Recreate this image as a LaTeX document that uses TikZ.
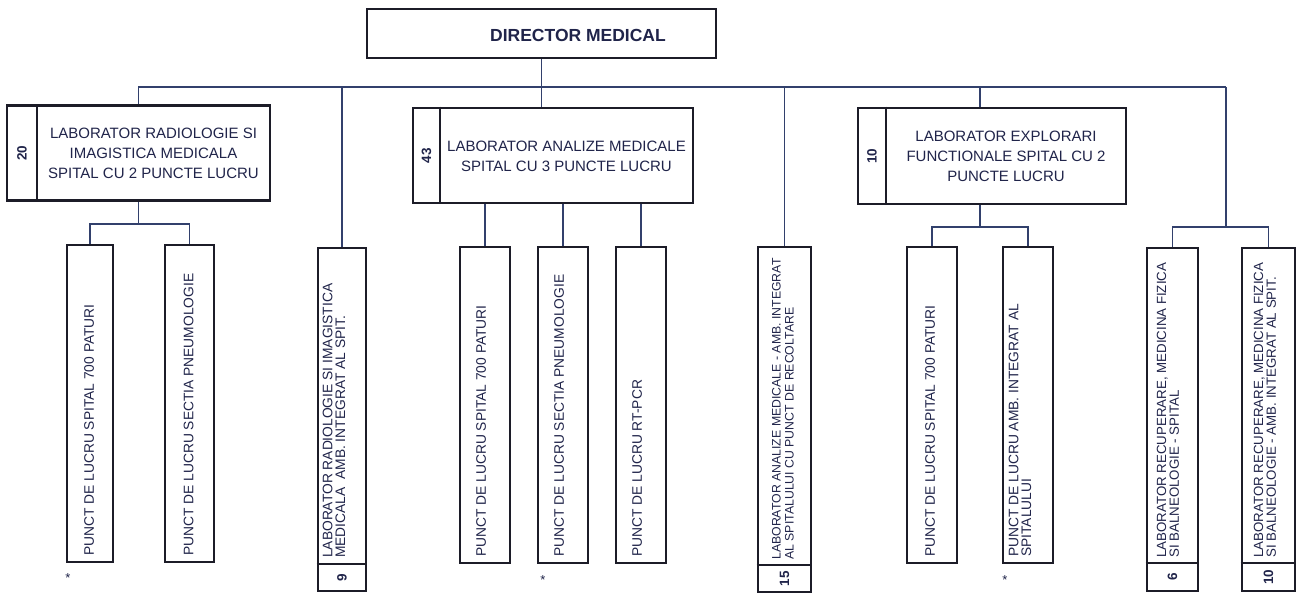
\documentclass[tikz,border=0pt]{standalone}
\usepackage{fontspec}
\setmainfont{Liberation Sans}
\definecolor{ink}{RGB}{32,36,74}
\definecolor{edge}{RGB}{28,28,40}
\definecolor{wire}{RGB}{50,64,108}
\tikzset{
  topbox/.style={draw=edge, line width=2.6pt, fill=white, rectangle, inner sep=0pt},
  lowbox/.style={draw=edge, line width=2.6pt, fill=white, rectangle, inner sep=0pt},
  divline/.style={draw=edge, line width=2pt},
  conn/.style={draw=wire, line width=1.5pt},
  toptxt/.style={text=ink, align=center, inner sep=0pt, font=\fontsize{15}{20}\selectfont},
  vtxt/.style={text=ink, align=left, inner sep=0pt, rotate=90, anchor=west, font=\fontsize{13.8}{12.8}\selectfont},
  numtxt/.style={text=ink, inner sep=0pt, rotate=90, font=\bfseries\fontsize{13.5}{14}\selectfont},
  asttxt/.style={text=ink, inner sep=0pt, font=\fontsize{13}{13}\selectfont}
}
\begin{document}
\begin{tikzpicture}[x=1pt,y=-1pt]
\useasboundingbox (0,0) rectangle (1303,596);
\fill[white] (0,0) rectangle (1303,596);
\coordinate (bus) at (0,87);
\coordinate (busR) at (1226,87);
% top boxes
\node[topbox, line width=2.3pt, minimum width=349, minimum height=49] (dir) at (541.5,33.5) {};
\node[text=ink, inner sep=0pt, font=\bfseries\fontsize{17.5}{20}\selectfont] (dirt) at (578,35) {DIRECTOR MEDICAL};
\node[topbox, minimum width=263, minimum height=95] (b1) at (138.5,153) {};
\node[topbox, minimum width=280, minimum height=95] (b2) at (553,155.5) {};
\node[topbox, minimum width=268, minimum height=96] (b3) at (992,156) {};
% bottom boxes
\node[lowbox, minimum width=46, minimum height=317] (p1a) at (90,403.5) {};
\node[lowbox, minimum width=49, minimum height=317] (p1b) at (189.5,403.5) {};
\node[lowbox, minimum width=48, minimum height=343] (p9) at (342,419.5) {};
\node[lowbox, minimum width=50, minimum height=316] (p2a) at (485,405) {};
\node[lowbox, minimum width=50, minimum height=316] (p2b) at (563,405) {};
\node[lowbox, minimum width=50, minimum height=316] (p2c) at (641,405) {};
\node[lowbox, minimum width=53, minimum height=345] (p15) at (784.5,419.5) {};
\node[lowbox, minimum width=50, minimum height=316] (p3a) at (932,405) {};
\node[lowbox, minimum width=50, minimum height=316] (p3b) at (1028,405) {};
\node[lowbox, minimum width=51, minimum height=343] (p6) at (1172.5,419.5) {};
\node[lowbox, minimum width=53, minimum height=343] (p10) at (1268.5,419.5) {};
% connectors
\draw[conn] (b1.north) -- (b1.north |- bus) -- (busR);
\draw[conn] (dir.south) -- (dir.south |- b2.north);
\draw[conn] (p9.north |- bus) -- (p9.north);
\draw[conn] (p15.north |- bus) -- (p15.north);
\draw[conn] (980,87) -- (b3.north -| 980,0);
\draw[conn] (b1.south) -- (b1.south |- 0,224);
\draw[conn] (p1a.north) -- (p1a.north |- 0,224) -- (p1b.north |- 0,224) -- (p1b.north);
\draw[conn] (b2.south -| p2a.north) -- (p2a.north);
\draw[conn] (b2.south -| p2b.north) -- (p2b.north);
\draw[conn] (b2.south -| p2c.north) -- (p2c.north);
\draw[conn] (b3.south -| 980,0) -- (980,227);
\draw[conn] (p3a.north) -- (p3a.north |- 0,227) -- (p3b.north |- 0,227) -- (p3b.north);
\draw[conn] (busR) -- (busR |- 0,227);
\draw[conn] (p6.north) -- (p6.north |- 0,227) -- (p10.north |- 0,227) -- (p10.north);
% dividers
\draw[divline] (b1.north -| 37,0) -- (b1.south -| 37,0);
\draw[divline] (b2.north -| 440,0) -- (b2.south -| 440,0);
\draw[divline] (b3.north -| 886,0) -- (b3.south -| 886,0);
\draw[divline] (p9.west |- 0,564) -- (p9.east |- 0,564);
\draw[divline] (p15.west |- 0,565) -- (p15.east |- 0,565);
\draw[divline] (p6.west |- 0,563) -- (p6.east |- 0,563);
\draw[divline] (p10.west |- 0,563) -- (p10.east |- 0,563);
% top texts
\node[numtxt] (n20) at (22,153) {20};
\node[toptxt] (t1) at (153.5,153) {LABORATOR RADIOLOGIE SI\\IMAGISTICA MEDICALA\\SPITAL CU 2 PUNCTE LUCRU};
\node[numtxt] (n43) at (426.5,155.5) {43};
\node[toptxt] (t2) at (566.5,156) {LABORATOR ANALIZE MEDICALE\\SPITAL CU 3 PUNCTE LUCRU};
\node[numtxt] (n10a) at (872,156) {10};
\node[toptxt] (t3) at (1006,156) {LABORATOR EXPLORARI\\FUNCTIONALE SPITAL CU 2\\PUNCTE LUCRU};
% bottom texts
\node[vtxt] (t1a) at (89,556) {PUNCT DE LUCRU SPITAL 700 PATURI};
\node[vtxt] (t1b) at (188.5,556) {PUNCT DE LUCRU SECTIA PNEUMOLOGIE};
\node[vtxt] (t9) at (334,558) {LABORATOR RADIOLOGIE SI IMAGISTICA\\MEDICALA\ \ AMB. INTEGRAT AL SPIT.};
\node[numtxt] (n9) at (p9.south |- 0,577.5) {9};
\node[vtxt] (t2a) at (481,557) {PUNCT DE LUCRU SPITAL 700 PATURI};
\node[vtxt] (t2b) at (559,557) {PUNCT DE LUCRU SECTIA PNEUMOLOGIE};
\node[vtxt] (t2c) at (637,557) {PUNCT DE LUCRU RT-PCR};
\node[vtxt, font=\fontsize{12.3}{13}\selectfont] (t15) at (783,560) {LABORATOR ANALIZE MEDICALE - AMB. INTEGRAT\\AL SPITALULUI CU PUNCT DE RECOLTARE};
\node[numtxt] (n15) at (p15.south |- 0,578.5) {15};
\node[vtxt] (t3a) at (930,557) {PUNCT DE LUCRU SPITAL 700 PATURI};
\node[vtxt] (t3b) at (1020,557) {PUNCT DE LUCRU AMB. INTEGRAT AL\\SPITALULUI};
\node[vtxt, font=\fontsize{13.3}{12.8}\selectfont] (t6) at (1168,558) {LABORATOR RECUPERARE, MEDICINA FIZICA\\SI BALNEOLOGIE - SPITAL};
\node[numtxt] (n6) at (p6.south |- 0,577) {6};
\node[vtxt, font=\fontsize{13.3}{12.8}\selectfont] (t10) at (1265,558) {LABORATOR RECUPERARE, MEDICINA FIZICA\\SI BALNEOLOGIE - AMB. INTEGRAT AL SPIT.};
\node[numtxt] (n10b) at (p10.south |- 0,577) {10};
% asterisks
\node[asttxt] (a1) at (68,578) {*};
\node[asttxt] (a2) at (543,580) {*};
\node[asttxt] (a3) at (1005,580) {*};
\end{tikzpicture}
\end{document}
